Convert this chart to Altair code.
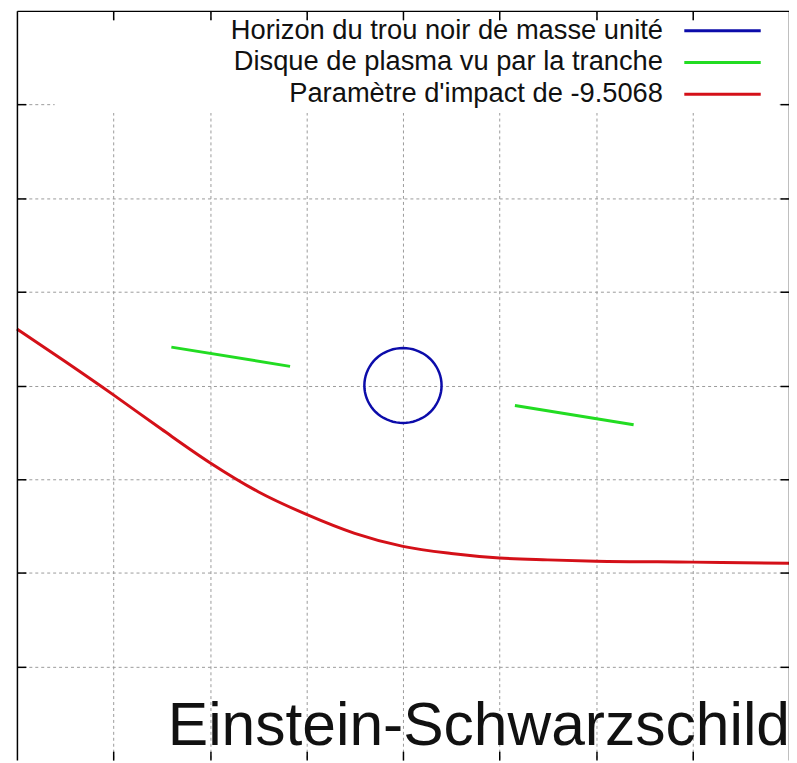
import altair as alt
import pandas as pd

# ---------------- data ----------------
LABEL_HORIZON = "Horizon du trou noir de masse unité"
LABEL_DISC = "Disque de plasma vu par la tranche"
LABEL_RAY = "Paramètre d'impact de -9.5068"
series_labels = [LABEL_HORIZON, LABEL_DISC, LABEL_RAY]
series_colors = ["#0c0caa", "#22dc22", "#d41018"]

chart_title = "Einstein-Schwarzschild"

# horizon of a unit-mass black hole (r = 2M)
horizon_radius = 2.0

# edge-on plasma disc (two segments, r from 6 to 12)
disc_segment = ["gauche", "gauche", "droite", "droite"]
disc_x = [-12.0, -5.85, 5.80, 11.95]
disc_y = [2.05, 1.02, -1.07, -2.10]

# light ray with impact parameter -9.5068
ray_x = [-20, -17.5, -15, -12.5, -10, -7.5, -5, -2.5, 0, 2.5, 5, 7.5, 10, 15, 20]
ray_y = [3.02, 1.28, -0.50, -2.34, -4.12, -5.67, -6.88, -7.89, -8.59, -8.97,
         -9.21, -9.31, -9.38, -9.43, -9.49]

axis_domain = [-20, 20]
grid_ticks = [-15, -10, -5, 0, 5, 10, 15]

# ---------------- layout ----------------
W, H = 778, 755
FONT = "Liberation Sans"

xscale = alt.Scale(domain=axis_domain, nice=False, zero=False)
yscale = alt.Scale(domain=axis_domain, nice=False, zero=False)

color = alt.Color(
    "serie:N",
    scale=alt.Scale(domain=series_labels, range=series_colors),
    legend=alt.Legend(
        title=None, orient="none", legendX=696.5, legendY=5.5,
        symbolType="M-3,0H3", symbolSize=659, symbolStrokeWidth=3,
        symbolFillColor="transparent",
        rowPadding=4, labelOffset={"expr": "-74.5"},
        labelAlign="right",
        labelFont=FONT, labelFontSize=27.5, labelColor="#111111",
        labelLimit=700, padding=0, zindex=1, symbolOffset=0,
    ),
)

grid_axis = dict(values=grid_ticks, grid=True, gridColor="#9a9a9a",
                 gridDash=[3, 3], gridWidth=1, domain=False, ticks=False,
                 labels=False, title=None, zindex=0)
tick_style = dict(values=grid_ticks, grid=False, domainColor="black",
                  domainWidth=1.5, ticks=True, tickColor="black", tickSize=9,
                  tickWidth=1.5, labels=False, title=None, zindex=1)

# white key box masking the grid behind the legend
mask = alt.Chart(pd.DataFrame({"k": [0]})).mark_rect(fill="white").encode(
    x=alt.value(38), x2=alt.value(W - 10), y=alt.value(10), y2=alt.value(103)
)

circle = (
    alt.Chart(alt.sequence(0, 361, 5, as_="angle"))
    .transform_calculate(
        x=f"{horizon_radius}*cos(datum.angle*PI/180)",
        y=f"{horizon_radius}*sin(datum.angle*PI/180)",
        serie="'" + LABEL_HORIZON + "'",
    )
    .mark_line(strokeWidth=2.5)
    .encode(
        x=alt.X("x:Q", scale=xscale, axis=alt.Axis(**grid_axis)),
        y=alt.Y("y:Q", scale=yscale, axis=alt.Axis(**grid_axis)),
        order=alt.Order("angle:Q"),
        color=color,
    )
)

disc_df = pd.DataFrame({"seg": disc_segment, "x": disc_x, "y": disc_y,
                        "serie": [LABEL_DISC] * len(disc_x)})
disc = alt.Chart(disc_df).mark_line(strokeWidth=3).encode(
    x=alt.X("x:Q", scale=xscale,
            axis=alt.Axis(orient="bottom", offset=-H, domain=True, **tick_style)),
    y=alt.Y("y:Q", scale=yscale,
            axis=alt.Axis(orient="right", offset=-W, domain=True, **tick_style)),
    detail="seg:N",
    color=color,
)

ray_df = pd.DataFrame({"x": ray_x, "y": ray_y, "serie": [LABEL_RAY] * len(ray_x)})
ray = alt.Chart(ray_df).mark_line(strokeWidth=3, interpolate="monotone").encode(
    x=alt.X("x:Q", scale=xscale,
            axis=alt.Axis(orient="top", offset=-H, domain=False, **tick_style)),
    y=alt.Y("y:Q", scale=yscale,
            axis=alt.Axis(orient="left", offset=-W, domain=True, **tick_style)),
    color=color,
)

chart = (
    alt.layer(mask, circle, disc, ray)
    .resolve_axis(x="independent", y="independent")
    .properties(
        width=W, height=H,
        autosize=alt.AutoSizeParams(type="none"),
        padding={"left": 9, "top": 0, "right": 0, "bottom": 0},
        background="white",
        title=alt.TitleParams(
            chart_title, orient="bottom", anchor="end", frame="group",
            font=FONT, fontSize=61, fontWeight="normal", color="#111111",
            baseline="alphabetic", offset=-16, dx=1,
        ),
    )
    .configure_view(stroke=None)
)

chart.save("out.html", embed_options={"renderer": "svg", "actions": False})
